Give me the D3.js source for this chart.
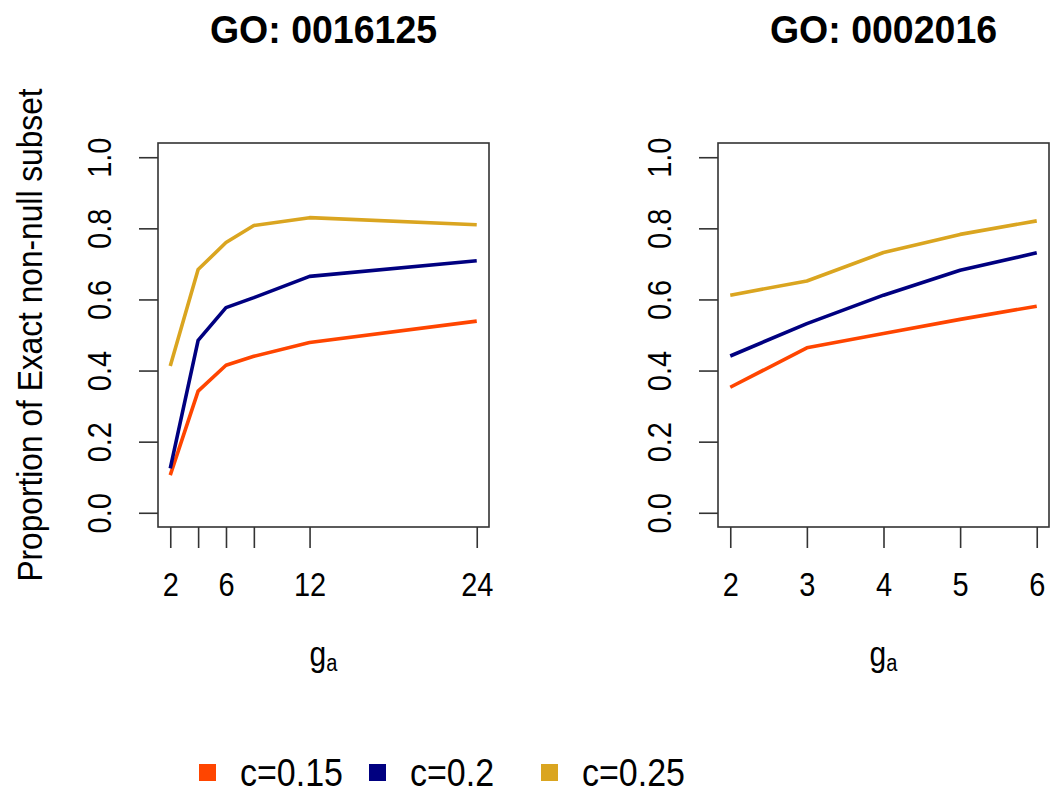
<!DOCTYPE html>
<html><head><meta charset="utf-8">
<script src="https://cdn.jsdelivr.net/npm/d3@7"></script>
<style>body{margin:0;background:#fff}svg{display:block}</style>
</head><body>
<svg id="c" width="1050" height="799"></svg>
<script>
const seriesNames = ["c=0.15","c=0.2","c=0.25"];
const seriesColors = ["#FF4500","#000080","#DAA520"];

const leftTitle = "GO: 0016125";
const leftX = [2,4,6,8,12,24];
const leftTickLabels = [2,6,12,24];
const leftRed = [0.106,0.342,0.415,0.440,0.479,0.539];
const leftBlue = [0.125,0.485,0.577,0.605,0.665,0.709];
const leftGold = [0.413,0.684,0.760,0.808,0.830,0.810];

const rightTitle = "GO: 0002016";
const rightX = [2,3,4,5,6];
const rightTickLabels = [2,3,4,5,6];
const rightRed = [0.353,0.464,0.504,0.544,0.581];
const rightBlue = [0.441,0.532,0.612,0.682,0.731];
const rightGold = [0.612,0.652,0.732,0.783,0.821];

const yTicks = [0,0.2,0.4,0.6,0.8,1.0];
const yTitle = "Proportion of Exact non-null subset";

const svg = d3.select("#c");
const font = "'Liberation Sans', Arial, sans-serif";
const SY = 1.12;

function panel(opts){
  const {x0,x1,y0,y1,xs,ticks,labels,series,title,showYTitle} = opts;
  const ext = (xs[xs.length-1]-xs[0])*0.04;
  const x = d3.scaleLinear().domain([xs[0]-ext, xs[xs.length-1]+ext]).range([x0,x1]);
  const y = d3.scaleLinear().domain([-0.04,1.04]).range([y1,y0]);
  const g = svg.append("g");
  const line = d3.line().x((d,i)=>x(xs[i])).y(d=>y(d));
  series.forEach((s,i)=>{
    g.append("path").attr("d",line(s)).attr("fill","none")
      .attr("stroke",seriesColors[i]).attr("stroke-width",3.6)
      .attr("stroke-linejoin","round");
  });
  g.append("rect").attr("x",x0).attr("y",y0).attr("width",x1-x0).attr("height",y1-y0)
    .attr("fill","none").attr("stroke","#333").attr("stroke-width",1.6);
  // x axis
  const xa = d3.axisBottom(x).tickValues(ticks).tickSizeInner(21).tickSizeOuter(0).tickPadding(0)
    .tickFormat(d=>labels.includes(d)?String(d):"");
  const gx = g.append("g").attr("transform",`translate(0,${y1})`).call(xa);
  gx.select(".domain").remove();
  gx.selectAll(".tick line").attr("stroke","#333").attr("stroke-width",1.6);
  gx.selectAll(".tick text").attr("y",0).attr("dy","0.35em")
    .attr("transform",`translate(0,58) scale(1,${SY})`)
    .attr("font-family",font).attr("font-size",29).attr("fill","#000");
  // y axis
  const ya = d3.axisLeft(y).tickValues(yTicks).tickSizeInner(19).tickSizeOuter(0).tickFormat(d3.format(".1f"));
  const gy = g.append("g").attr("transform",`translate(${x0},0)`).call(ya);
  gy.select(".domain").remove();
  gy.selectAll(".tick line").attr("stroke","#333").attr("stroke-width",1.6);
  gy.selectAll(".tick text").attr("x",0).attr("dy",null)
    .attr("transform",`translate(-58,0) rotate(-90) scale(1,${SY})`)
    .attr("text-anchor","middle").attr("dominant-baseline","central")
    .attr("font-family",font).attr("font-size",29).attr("fill","#000");
  // title
  const cx = (x0+x1)/2;
  g.append("text").attr("transform",`translate(${cx},43) scale(1,1.04)`).attr("text-anchor","middle")
    .attr("font-family",font).attr("font-weight","bold").attr("font-size",37.5).text(title);
  // x label g_a
  const xl = g.append("text").attr("transform",`translate(${cx},666) scale(1,1.15)`).attr("text-anchor","middle")
    .attr("font-family",font).attr("font-size",30);
  xl.append("tspan").text("g");
  xl.append("tspan").attr("font-size",20).attr("dy",4).text("a");
  if(showYTitle){
    svg.append("text").attr("transform",`translate(30,${(y0+y1)/2}) rotate(-90) scale(1,${SY})`)
      .attr("text-anchor","middle").attr("dominant-baseline","central")
      .attr("font-family",font).attr("font-size",31.7).text(yTitle);
  }
}

panel({x0:158,x1:489,y0:143,y1:527,xs:leftX,ticks:leftX,labels:leftTickLabels,
  series:[leftRed,leftBlue,leftGold],title:leftTitle,showYTitle:true});
panel({x0:718,x1:1049,y0:143,y1:527,xs:rightX,ticks:rightX,labels:rightTickLabels,
  series:[rightRed,rightBlue,rightGold],title:rightTitle,showYTitle:false});

// legend
const legX = [199,369,541];
const leg = svg.append("g");
seriesNames.forEach((n,i)=>{
  leg.append("rect").attr("x",legX[i]).attr("y",764).attr("width",17).attr("height",17)
    .attr("fill",seriesColors[i]);
  leg.append("text").attr("transform",`translate(${legX[i]+41},773) scale(1,1.15)`)
    .attr("dominant-baseline","central")
    .attr("font-family",font).attr("font-size",34).text(n);
});
</script>
</body></html>
